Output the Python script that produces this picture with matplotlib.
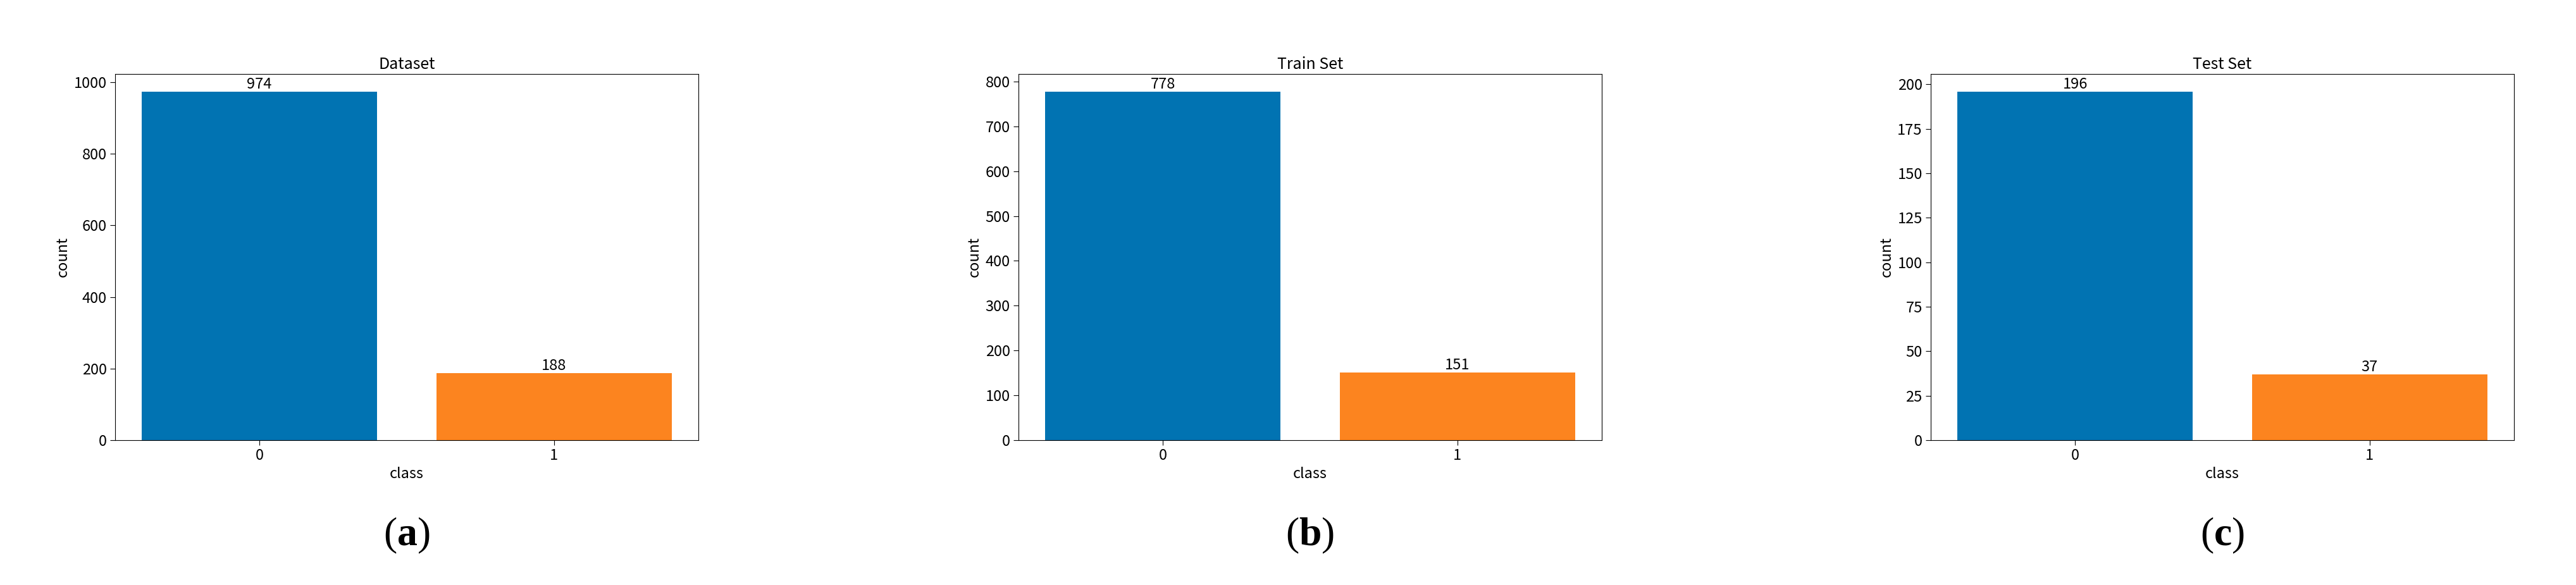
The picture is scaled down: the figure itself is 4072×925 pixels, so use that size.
import numpy as np
import matplotlib.pyplot as plt

plt.rcParams['font.family'] = ['Noto Sans CJK SC', 'DejaVu Sans']
plt.rcParams['mathtext.fontset'] = 'custom'
plt.rcParams['mathtext.bf'] = 'Liberation Serif:bold'
plt.rcParams['mathtext.rm'] = 'Liberation Serif'

classes = ['0', '1']
titles = ['Dataset', 'Train Set', 'Test Set']
captions = ['a', 'b', 'c']
counts = [[974, 188], [778, 151], [196, 37]]
yticks = [np.arange(0, 1001, 200), np.arange(0, 801, 100), np.arange(0, 201, 25)]
colors = ['#0173b2', '#fc841f']

fig = plt.figure(figsize=(40.72, 9.25), dpi=100)
lefts = [182, 1610, 3052]
W, H = 4072, 925
for i in range(3):
    ax = fig.add_axes([lefts[i] / W, 1 - 696 / H, 922 / W, (696 - 117) / H])
    bars = ax.bar(classes, counts[i], color=colors, width=0.8)
    ax.bar_label(bars, fontsize=17, padding=0)
    ax.set_yticks(yticks[i])
    ax.tick_params(labelsize=17, length=6)
    ax.set_title(titles[i], fontsize=18)
    ax.set_xlabel('class', fontsize=17)
    ax.set_ylabel('count', fontsize=17)
    fig.text((lefts[i] + 461) / W, 1 - 845 / H, r'$\mathrm{(}\mathbf{%s}\mathrm{)}$' % captions[i],
             ha='center', va='center', fontsize=46)

fig.savefig('out.png', dpi=100)
